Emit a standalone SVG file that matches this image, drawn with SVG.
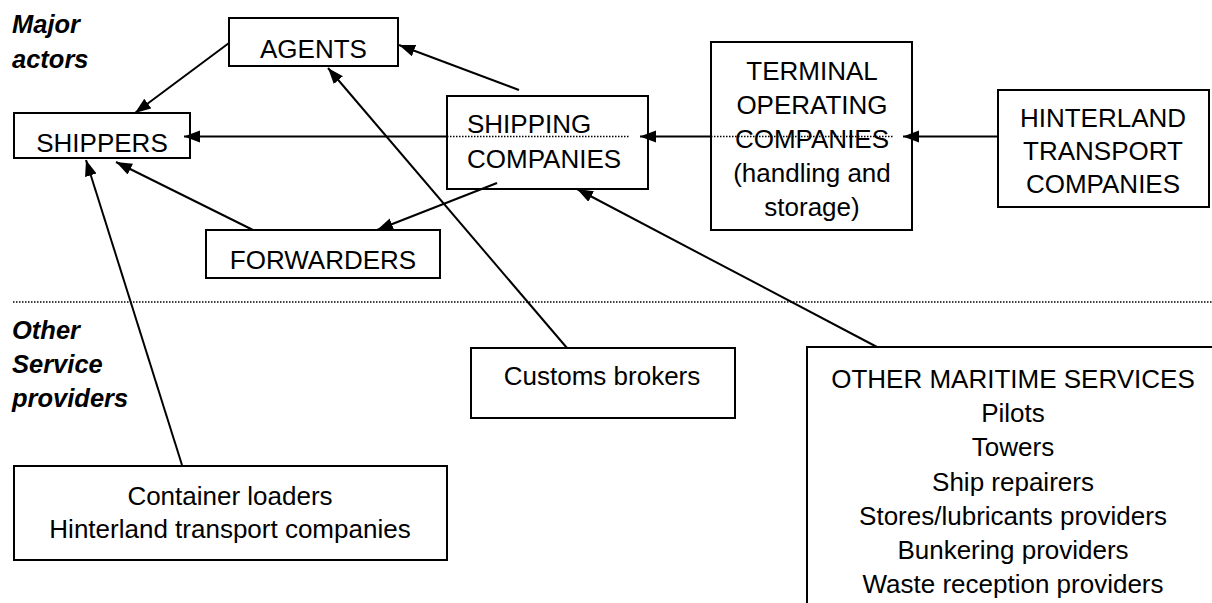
<svg xmlns="http://www.w3.org/2000/svg" width="1212" height="603" viewBox="0 0 1212 603">
<style>
  .box { fill: #fff; stroke: #000; stroke-width: 2; }
  .t { font-family: "Liberation Sans", Arial, sans-serif; font-size: 26px; fill: #000; text-anchor: middle; }
  .ts { text-anchor: start; }
  .lab { font-family: "Liberation Sans", Arial, sans-serif; font-size: 25.5px; font-weight: bold; font-style: italic; fill: #000; }
  .c { stroke: #000; stroke-width: 2; fill: none; }
  .dot { stroke: #000; stroke-width: 1.5; stroke-dasharray: 1.5 1.5; fill: none; }
</style>
<defs>
  <marker id="ah" markerUnits="userSpaceOnUse" markerWidth="17" markerHeight="13" refX="16" refY="6" orient="auto">
    <path d="M0,0 L16,6 L0,12 z" fill="#000"/>
  </marker>
</defs>
<rect width="1212" height="603" fill="#fff"/>

<g id="labels">
  <text class="lab" x="12" y="33">Major</text>
  <text class="lab" x="12" y="68">actors</text>
  <text class="lab" x="12" y="339">Other</text>
  <text class="lab" x="12" y="373">Service</text>
  <text class="lab" x="12" y="407">providers</text>
</g>

<g id="divider">
  <line class="dot" x1="13" y1="302" x2="1212" y2="302"/>
</g>

<g id="agents">
  <rect class="box" x="229" y="18" width="169" height="48"/>
  <text class="t" x="313.5" y="58">AGENTS</text>
</g>
<g id="shippers">
  <rect class="box" x="14" y="113" width="176" height="45"/>
  <text class="t" x="102" y="152">SHIPPERS</text>
</g>
<g id="shipping">
  <rect class="box" x="447" y="96" width="201" height="93"/>
  <text class="t ts" x="467" y="133">SHIPPING</text>
  <text class="t ts" x="467" y="168">COMPANIES</text>
</g>
<g id="terminal">
  <rect class="box" x="711" y="42" width="201" height="188"/>
  <text class="t" x="812" y="80">TERMINAL</text>
  <text class="t" x="812" y="114">OPERATING</text>
  <text class="t" x="812" y="148">COMPANIES</text>
  <text class="t" x="812" y="182">(handling and</text>
  <text class="t" x="812" y="216">storage)</text>
</g>
<g id="hinterland">
  <rect class="box" x="998" y="90" width="211" height="117"/>
  <text class="t" x="1103" y="127">HINTERLAND</text>
  <text class="t" x="1103" y="160">TRANSPORT</text>
  <text class="t" x="1103" y="193">COMPANIES</text>
</g>
<g id="forwarders">
  <rect class="box" x="206" y="230" width="234" height="48"/>
  <text class="t" x="323" y="269">FORWARDERS</text>
</g>
<g id="customs">
  <rect class="box" x="471" y="348" width="264" height="70"/>
  <text class="t" x="602" y="385">Customs brokers</text>
</g>
<g id="container">
  <rect class="box" x="14" y="466" width="433" height="94"/>
  <text class="t" x="230" y="505">Container loaders</text>
  <text class="t" x="230" y="538">Hinterland transport companies</text>
</g>
<g id="maritime">
  <rect class="box" x="807" y="347" width="420" height="270"/>
  <text class="t" x="1013" y="388">OTHER MARITIME SERVICES</text>
  <text class="t" x="1013" y="422">Pilots</text>
  <text class="t" x="1013" y="456">Towers</text>
  <text class="t" x="1013" y="491">Ship repairers</text>
  <text class="t" x="1013" y="525">Stores/lubricants providers</text>
  <text class="t" x="1013" y="559">Bunkering providers</text>
  <text class="t" x="1013" y="593">Waste reception providers</text>
</g>

<g id="connectors">
  <line class="c" x1="229" y1="43" x2="135" y2="113" marker-end="url(#ah)"/>
  <line class="c" x1="519" y1="90" x2="399" y2="45" marker-end="url(#ah)"/>
  <line class="c" x1="447" y1="136.5" x2="184" y2="136.5" marker-end="url(#ah)"/>
  <line class="dot" x1="447" y1="136.5" x2="630" y2="136.5"/>
  <line class="c" x1="711" y1="136.5" x2="640" y2="136.5" marker-end="url(#ah)"/>
  <line class="dot" x1="711" y1="136.5" x2="893" y2="136.5"/>
  <line class="c" x1="998" y1="136.5" x2="903" y2="136.5" marker-end="url(#ah)"/>
  <line class="c" x1="497" y1="183" x2="377" y2="230" marker-end="url(#ah)"/>
  <line class="c" x1="253" y1="230" x2="116" y2="162" marker-end="url(#ah)"/>
  <line class="c" x1="182" y1="465" x2="86" y2="160" marker-end="url(#ah)"/>
  <line class="c" x1="567" y1="348" x2="328" y2="68" marker-end="url(#ah)"/>
  <line class="c" x1="877" y1="347" x2="577" y2="189" marker-end="url(#ah)"/>
</g>
</svg>
